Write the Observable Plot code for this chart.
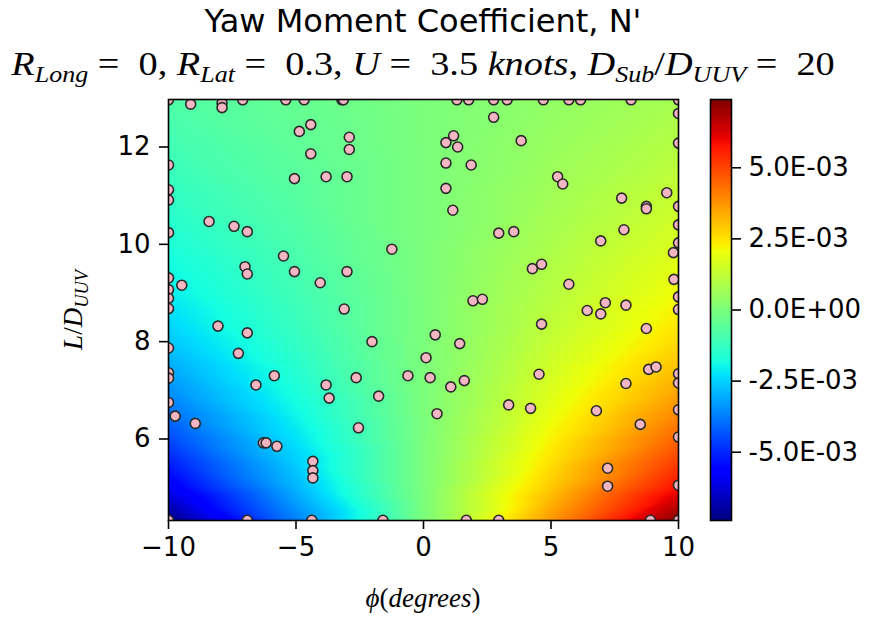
<!DOCTYPE html>
<html><head><meta charset="utf-8">
<script src="https://cdn.jsdelivr.net/npm/d3@7"></script>
<script src="https://cdn.jsdelivr.net/npm/@observablehq/plot@0.6"></script>
<style>
body{margin:0;background:#fff;}
#wrap{position:relative;width:879px;height:621px;overflow:hidden;background:#fff;}
.abs{position:absolute;}
#title{left:0;width:846px;top:2px;text-align:center;font-family:"DejaVu Sans";font-size:32px;color:#000;white-space:nowrap;}
#subtitle{left:0;width:846px;top:46px;text-align:center;font-family:"Liberation Serif";font-size:33px;color:#000;white-space:nowrap;transform:scaleX(1.16);transform-origin:423px 50%;}
.s{font-size:68%;position:relative;top:0.3em;font-style:italic;}
#ylab{left:-27px;top:292px;width:200px;height:36px;line-height:36px;text-align:center;transform:rotate(-90deg);font-family:"Liberation Serif";font-size:27px;white-space:nowrap;}
#xlab{left:273px;width:300px;top:583px;text-align:center;font-family:"Liberation Serif";font-size:27px;white-space:nowrap;}
#main{left:0;top:0;}
#cbar{left:700px;top:0;}
</style></head>
<body>
<div id="wrap">
  <div id="main" class="abs"></div>
  <div id="cbar" class="abs"></div>
  <div id="title" class="abs">Yaw Moment Coefficient, N'</div>
  <div id="subtitle" class="abs"><i>R</i><span class="s">Long</span> = &nbsp;0, <i>R</i><span class="s">Lat</span> = &nbsp;0.3, <i>U</i> = &nbsp;3.5 <i>knots</i>, <i>D</i><span class="s">Sub</span>/<i>D</i><span class="s">UUV</span> = &nbsp;20</div>
  <div id="ylab" class="abs"><i>L</i>/<i>D</i><span class="s">UUV</span></div>
  <div id="xlab" class="abs"><i>ϕ</i>(<i>degrees</i>)</div>
</div>
<script>
// ---- data ----
const phiPts = [
 -9.13,-7.9,-7.9,-4.42,-4.87,-4.42,-5.06,-3.82,-8.41,-7.43,-6.91,-5.49,-7.0,-6.91,-5.06,-4.05,-9.48,
 2.75,-2.91,-2.91,1.18,0.88,1.34,0.88,1.87,-3.0,0.88,1.15,2.95,-1.24,-3.0,1.94,2.31,-3.11,
 3.83,5.26,5.46,7.77,9.54,8.74,8.74,7.86,6.95,9.8,3.54,4.27,4.63,5.7,9.82,7.13,7.94,6.42,6.95,
 -8.06,-6.91,-7.26,-5.85,-6.57,-3.82,-3.7,-9.74,-8.95,-6.28,-6.17,-5.75,-4.34,-4.34,-4.34,
 -2.02,0.46,1.42,0.1,-2.64,-0.61,0.26,1.07,1.6,-1.76,3.34,0.53,-2.55,
 4.63,8.74,8.83,9.12,4.53,7.94,4.2,6.78,8.5,7.22,7.22,
 -10,-10,-10,-10,-10,-10,-10,-10,-10,-10,-10,-10,-10,-10,
 10,10,10,10,10,10,10,10,10,10,10,10,10,10,
 -7.09,-5.4,-4.68,-3.2,-3.14,1.31,1.77,2.75,3.28,4.7,5.7,6.16,8.14,
 -6.91,-4.38,-1.59,1.68,2.95,8.9
];
const LPts = [
 12.88,12.9,12.81,12.46,12.32,11.86,11.35,11.39,10.47,10.37,10.26,9.76,9.54,9.39,9.44,9.21,9.16,
 12.61,12.2,11.95,12.23,12.09,12.0,11.67,11.63,11.39,11.15,10.7,10.23,9.9,9.44,8.84,8.87,8.67,
 12.13,11.39,11.24,10.95,11.06,10.78,10.73,10.3,10.07,9.83,10.26,9.5,9.59,9.18,9.28,8.8,8.75,8.64,8.57,
 8.32,8.18,7.76,7.3,7.11,7.11,6.84,6.47,6.32,5.92,5.92,5.85,5.54,5.35,5.2,
 8.0,8.14,7.96,7.67,7.26,7.3,7.26,7.07,7.2,6.88,6.7,6.52,6.23,
 8.36,8.27,7.43,7.48,7.33,7.14,6.63,6.58,6.3,5.4,5.03,
 12.97,11.63,11.12,10.91,10.24,9.31,9.07,8.89,8.68,7.87,7.36,7.25,6.75,4.33,
 12.97,12.69,12.08,10.78,10.4,10.03,8.92,8.66,7.34,7.15,6.6,6.04,5.05,4.33,
 12.97,12.97,12.97,12.97,12.97,12.97,12.97,12.97,12.97,12.97,12.97,12.97,12.97,
 4.33,4.33,4.33,4.33,4.33,4.33
];
// colour field samples (N'), read at phi = -10,-5,0,5,10 for each L/D_UUV
const gridPhi = [-10, -5, 0, 5, 10];
const gridL = [4.325, 4.75, 5.0, 5.5, 6.0, 6.5, 7.0, 7.5, 8.0, 8.5, 9.0, 9.5, 10.0, 11.0, 12.0, 12.976];
const gridV = [
 [-7.40e-3, -3.70e-3, 0, 3.70e-3, 7.40e-3],
 [-6.40e-3, -3.20e-3, 0, 3.20e-3, 6.40e-3],
 [-5.85e-3, -2.92e-3, 0, 2.92e-3, 5.85e-3],
 [-5.15e-3, -2.57e-3, 0, 2.57e-3, 5.15e-3],
 [-4.50e-3, -2.25e-3, 0, 2.25e-3, 4.50e-3],
 [-3.95e-3, -1.97e-3, 0, 1.97e-3, 3.95e-3],
 [-3.45e-3, -1.72e-3, 0, 1.72e-3, 3.45e-3],
 [-3.05e-3, -1.52e-3, 0, 1.52e-3, 3.05e-3],
 [-2.65e-3, -1.32e-3, 0, 1.32e-3, 2.65e-3],
 [-2.35e-3, -1.17e-3, 0, 1.17e-3, 2.35e-3],
 [-2.10e-3, -1.05e-3, 0, 1.05e-3, 2.10e-3],
 [-1.90e-3, -0.95e-3, 0, 0.95e-3, 1.90e-3],
 [-1.70e-3, -0.85e-3, 0, 0.85e-3, 1.70e-3],
 [-1.35e-3, -0.67e-3, 0, 0.67e-3, 1.35e-3],
 [-1.05e-3, -0.52e-3, 0, 0.52e-3, 1.05e-3],
 [-0.80e-3, -0.40e-3, 0, 0.40e-3, 0.80e-3]
];
const colorDomain = [-7.4e-3, 7.4e-3];
const xTicks = [-10, -5, 0, 5, 10];
const yTicks = [6, 8, 10, 12];
const cbTicks = [-5e-3, -2.5e-3, 0, 2.5e-3, 5e-3];
const xDomain = [-10, 10];
const yDomain = [4.325, 12.976];

// ---- matplotlib "jet" colormap ----
const jetR = [[0,0],[0.35,0],[0.66,1],[0.89,1],[1,0.5]];
const jetG = [[0,0],[0.125,0],[0.375,1],[0.64,1],[0.91,0],[1,0]];
const jetB = [[0,0.5],[0.11,1],[0.34,1],[0.65,0],[1,0]];
function seg(p, t) {
  t = Math.max(0, Math.min(1, t));
  for (let i = 0; i < p.length - 1; i++) {
    if (t <= p[i+1][0]) {
      const a = p[i], b = p[i+1];
      return a[1] + (b[1]-a[1]) * (t - a[0]) / (b[0]-a[0]);
    }
  }
  return p[p.length-1][1];
}
const jet = t => `rgb(${Math.round(255*seg(jetR,t))},${Math.round(255*seg(jetG,t))},${Math.round(255*seg(jetB,t))})`;
const colorOpts = {type: "linear", domain: colorDomain, interpolate: jet, clamp: true};

const points = phiPts.map((p, i) => ({phi: p, L: LPts[i]}));
const field = [];
gridL.forEach((L, i) => gridPhi.forEach((p, j) => field.push({phi: p, L, v: gridV[i][j]})));

const fmtMinus = d => d < 0 ? "\u2212" + Math.abs(d) : String(d);
const fmtE = d => {
  const [m, e] = d.toExponential(1).split("e");
  const n = parseInt(e, 10);
  return m + "E" + (n < 0 ? "-" : "+") + String(Math.abs(n)).padStart(2, "0");
};
const axisStyle = {fontFamily: "DejaVu Sans", fontSize: "26px", color: "#000", background: "transparent", overflow: "visible"};

const main = Plot.plot({
  width: 700, height: 621,
  marginTop: 99, marginBottom: 101, marginLeft: 168, marginRight: 22,
  x: {domain: xDomain},
  y: {domain: yDomain},
  color: colorOpts,
  style: axisStyle,
  marks: [
    Plot.raster(field, {x: "phi", y: "L", fill: "v", interpolate: "barycentric",
      x1: xDomain[0], x2: xDomain[1], y1: yDomain[0], y2: yDomain[1], pixelSize: 1}),
    Plot.dot(points, {x: "phi", y: "L", r: 5, fill: "#f5b6c4", stroke: "#2a2a2a", strokeWidth: 1.6, clip: true}),
    Plot.frame({stroke: "#000", strokeWidth: 1.6}),
    Plot.axisX({ticks: xTicks, tickFormat: fmtMinus, tickSize: 9, tickPadding: 8, strokeWidth: 1.6, label: null}),
    Plot.axisY({ticks: yTicks, tickFormat: fmtMinus, tickSize: 9, tickPadding: 9, strokeWidth: 1.6, label: null})
  ]
});
document.getElementById("main").appendChild(main);

const cbar = Plot.plot({
  width: 179, height: 621,
  marginTop: 99, marginBottom: 101, marginLeft: 10, marginRight: 148,
  x: {domain: [0, 1], axis: null},
  y: {domain: colorDomain},
  color: colorOpts,
  style: axisStyle,
  marks: [
    Plot.raster({fill: (x, y) => y, x1: 0, x2: 1, y1: colorDomain[0], y2: colorDomain[1], pixelSize: 1}),
    Plot.frame({stroke: "#000", strokeWidth: 1.6}),
    Plot.axisY({anchor: "right", ticks: cbTicks, tickFormat: fmtE, tickSize: 9, tickPadding: 8, strokeWidth: 1.6, label: null})
  ]
});
document.getElementById("cbar").appendChild(cbar);
</script>
</body></html>
